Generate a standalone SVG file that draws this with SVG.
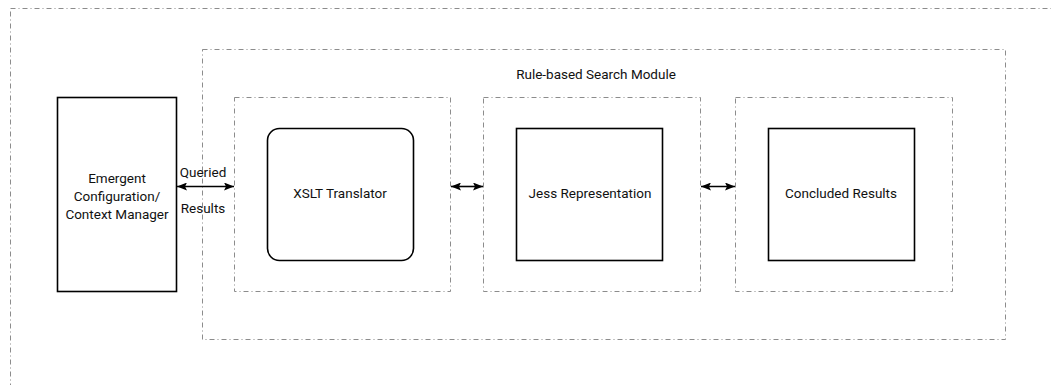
<svg xmlns="http://www.w3.org/2000/svg" width="1051" height="385" viewBox="0 0 1051 385">
  <style>
    .frame { fill: none; stroke: #8c8c8c; stroke-width: 1; stroke-dasharray: 5 3 1 3; }
    .box { fill: #fff; stroke: #000; stroke-width: 1.6; }
    .lbl { font-family: Roboto, "Liberation Sans", sans-serif; font-size: 13.5px; fill: #111; text-anchor: middle; }
    .link { stroke: #000; stroke-width: 1.6; fill: none; marker-start: url(#head); marker-end: url(#head); }
  </style>
  <defs>
    <marker id="head" viewBox="0 0 10 8" refX="10" refY="4" markerWidth="10" markerHeight="8" markerUnits="userSpaceOnUse" orient="auto-start-reverse">
      <path d="M0,0 L10,4 L0,8 L2,4 Z" fill="#000"/>
    </marker>
  </defs>
  <rect width="1051" height="385" fill="#fff"/>

  <!-- system boundary -->
  <rect class="frame" x="10.5" y="8.5" width="1080" height="400"/>

  <g id="search-module">
    <rect class="frame" x="202.5" y="49.5" width="803" height="290"/>
    <text class="lbl" x="596" y="79">Rule-based Search Module</text>
  </g>

  <g id="context-manager">
    <rect class="box" x="57.5" y="97.5" width="119" height="194"/>
    <text class="lbl" x="117" y="183">Emergent</text>
    <text class="lbl" x="117" y="201">Configuration/</text>
    <text class="lbl" x="117" y="219">Context Manager</text>
  </g>

  <g id="xslt-translator">
    <rect class="frame" x="234.5" y="97.5" width="216" height="194"/>
    <rect class="box" x="267.5" y="128.5" width="146" height="132" rx="12"/>
    <text class="lbl" x="340" y="198">XSLT Translator</text>
  </g>

  <g id="jess-representation">
    <rect class="frame" x="483.5" y="97.5" width="217" height="194"/>
    <rect class="box" x="516.5" y="128.5" width="146" height="132"/>
    <text class="lbl" x="590" y="198">Jess Representation</text>
  </g>

  <g id="concluded-results">
    <rect class="frame" x="735.5" y="97.5" width="217" height="194"/>
    <rect class="box" x="768.5" y="128.5" width="146" height="132"/>
    <text class="lbl" x="841" y="198">Concluded Results</text>
  </g>

  <g id="connectors">
    <line class="link" x1="177" y1="186.5" x2="234" y2="186.5"/>
    <text class="lbl" x="203" y="177">Queried</text>
    <text class="lbl" x="203" y="213">Results</text>
    <line class="link" x1="451" y1="186.5" x2="483" y2="186.5"/>
    <line class="link" x1="701" y1="186.5" x2="735" y2="186.5"/>
  </g>
</svg>
